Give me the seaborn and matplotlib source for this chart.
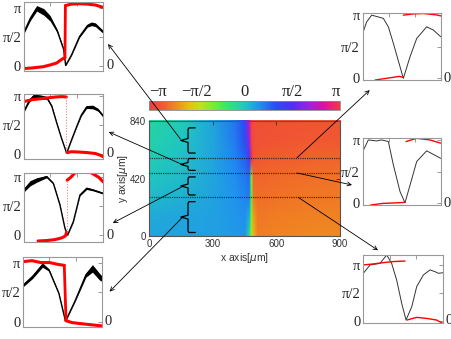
import numpy as np
import pandas as pd
import matplotlib
matplotlib.use("Agg")
import matplotlib.pyplot as plt
import matplotlib.transforms as mtransforms
import seaborn as sns
from matplotlib.colors import LinearSegmentedColormap, Normalize
from matplotlib.image import NonUniformImage
from matplotlib.patches import ConnectionPatch

PI = np.pi

# ---------------- colour wheel ----------------
cbar_pos = [0.00, 0.07, 0.14, 0.21, 0.27, 0.34, 0.41, 0.50, 0.58, 0.66, 0.75, 0.84, 0.92, 1.00]
cbar_cols = ["#f03a48", "#f05a30", "#f08a20", "#e8c010", "#c0e020", "#70f030", "#30e870",
             "#20c8c0", "#2090f0", "#2850f0", "#5030f0", "#a020e0", "#e010a0", "#f03a48"]
cbar_ticklabels = ["\u2212\u03c0", "\u2212\u03c0/2", "0", "\u03c0/2", "\u03c0"]

# ---------------- phase map (x, y in um; phase in rad) ----------------
field_x = [0, 150, 300, 400, 450, 470, 480, 490, 510, 600, 750, 900]
field_y = [0, 140, 280, 420, 560, 700, 840]
phase_y0 = [0.30, 0.32, 0.35, 0.40, 0.45, -0.30, -1.30, -1.90, -2.38, -2.32, -2.28, -2.28]
phase_y140 = [0.25, 0.30, 0.35, 0.42, 0.50, 0.20, -1.10, -2.05, -2.42, -2.38, -2.34, -2.33]
phase_y280 = [0.12, 0.22, 0.33, 0.45, 0.58, 0.65, -0.90, -2.42, -2.52, -2.47, -2.42, -2.40]
phase_y420 = [0.00, 0.12, 0.30, 0.50, 0.68, 0.80, -1.10, -2.57, -2.60, -2.54, -2.50, -2.47]
phase_y560 = [-0.08, 0.05, 0.30, 0.58, 0.85, 1.30, 2.95, -2.78, -2.72, -2.67, -2.62, -2.60]
phase_y700 = [-0.15, 0.00, 0.30, 0.65, 1.05, 2.00, -3.05, -2.85, -2.80, -2.77, -2.72, -2.70]
phase_y840 = [-0.20, -0.05, 0.30, 0.70, 1.15, 2.40, -3.00, -2.88, -2.84, -2.80, -2.77, -2.77]

x_ticks = [0, 300, 600, 900]
y_ticks = [0, 420, 840]
cut_y = [572, 462, 285]                       # dashed cut lines (um)
brace_spans = [(607, 790), (481, 567), (302, 433), (29, 253)]   # y-ranges (um)

# ---------------- inset curves: x in um, phase difference in rad ----------------
# left insets (thick black band: centre +- half width)
L1_bx = [0, 72, 144, 225, 297, 378, 450, 473, 540, 630, 720, 765, 810, 900]
L1_by = [1.85, 2.6, 3.15, 2.95, 2.6, 1.9, 0.9, 0.02, 0.6, 1.6, 2.2, 2.3, 2.25, 1.85]
L1_bw = [0.08, 0.12, 0.15, 0.18, 0.15, 0.08, 0.04, 0.02, 0.03, 0.05, 0.08, 0.1, 0.1, 0.08]
L1_ra_x = [0, 90, 219, 300, 370, 427, 465]
L1_ra_y = [-0.15, -0.12, -0.05, 0.05, 0.15, 0.35, 0.45]
L1_rb_x = [470, 540, 630, 720, 810, 900]
L1_rb_y = [3.3, 3.38, 3.4, 3.38, 3.33, 3.2]

L2_bx = [0, 60, 108, 180, 260, 315, 370, 425, 484, 540, 600, 650, 710, 780, 840, 900]
L2_by = [2.33, 2.9, 3.14, 3.1, 3.05, 2.6, 1.7, 0.85, 0.02, 0.75, 1.5, 2.1, 2.55, 2.55, 2.4, 2.05]
L2_bw = [0.05, 0.08, 0.12, 0.12, 0.08, 0.05, 0.03, 0.02, 0.02, 0.02, 0.03, 0.05, 0.08, 0.1, 0.08, 0.06]
L2_ra_x = [0, 90, 180, 270, 360, 430, 480]
L2_ra_y = [2.85, 2.95, 3.0, 3.05, 3.1, 3.12, 3.1]
L2_rb_x = [490, 540, 630, 720, 810, 870, 900]
L2_rb_y = [0.05, 0.1, 0.08, 0.05, 0.0, -0.1, -0.18]

L3_bx = [0, 68, 144, 257, 333, 408, 465, 495, 560, 635, 711, 787, 900]
L3_by = [2.42, 2.78, 2.96, 3.14, 2.78, 1.62, 0.36, 0.0, 0.72, 2.15, 2.51, 2.42, 2.24]
L3_bw = [0.1, 0.14, 0.12, 0.06, 0.04, 0.03, 0.02, 0.02, 0.03, 0.04, 0.06, 0.05, 0.04]
L3_ra_x = [160, 250, 350, 430, 470, 484]
L3_ra_y = [-0.32, -0.3, -0.25, -0.15, -0.05, 0.15]
L3_rb_x = [490, 530, 570, 640, 700, 780, 850, 900]
L3_rb_y = [2.95, 3.1, 3.3, 3.5, 3.5, 3.3, 3.1, 2.85]

L4_bx = [0, 106, 219, 295, 408, 484, 598, 718, 793, 874, 900]
L4_by = [1.95, 2.4, 3.02, 2.75, 1.51, 0.02, 1.15, 2.49, 2.84, 2.4, 2.3]
L4_bw = [0.08, 0.1, 0.12, 0.06, 0.03, 0.02, 0.04, 0.12, 0.2, 0.18, 0.15]
L4_ra_x = [0, 100, 200, 300, 400, 470]
L4_ra_y = [3.2, 3.25, 3.15, 3.15, 3.05, 3.0]
L4_rb_x = [490, 560, 650, 750, 850, 900]
L4_rb_y = [0.05, -0.05, -0.1, -0.15, -0.2, -0.22]

# right insets (thin curves)
R1_bx = [0, 45, 104, 180, 238, 296, 354, 469, 546, 623, 738, 815, 900]
R1_by = [2.23, 2.8, 3.14, 3.05, 2.98, 2.56, 1.74, 0.0, 1.07, 1.98, 2.56, 2.4, 2.07]
R1_ra_x = [144, 238, 346, 423, 469]
R1_ra_y = [-0.08, -0.02, 0.05, 0.1, 0.05]
R1_rb_x = [469, 585, 700, 855, 900]
R1_rb_y = [3.14, 3.2, 3.22, 3.15, 3.1]

R2_bx = [0, 65, 162, 219, 296, 354, 431, 488, 546, 623, 738, 900]
R2_by = [2.56, 3.14, 3.09, 3.14, 3.06, 1.9, 0.58, 0.03, 0.9, 2.07, 2.6, 2.23]
R2_ra_x = [92, 238, 360, 488]
R2_ra_y = [-0.08, 0.0, 0.02, 0.05]
R2_rb_x = [500, 623, 775, 900]
R2_rb_y = [3.06, 3.22, 3.14, 2.98]

R3_bx = [0, 76, 189, 265, 321, 378, 435, 484, 549, 605, 681, 756, 813, 851, 900]
R3_by = [2.67, 3.14, 3.23, 3.7, 3.23, 2.29, 0.98, 0.04, 0.79, 1.92, 2.58, 2.86, 2.76, 2.67, 2.7]
R3_ra_x = [0, 117, 227, 340, 473]
R3_ra_y = [3.14, 3.2, 3.27, 3.33, 3.36]
R3_rb_x = [495, 605, 720, 830, 900]
R3_rb_y = [0.04, 0.19, 0.13, 0.04, -0.15]

# ---------------- style ----------------
sns.set_style("white")
plt.rcParams["font.family"] = ["Liberation Sans", "DejaVu Sans"]
SERIF = ["Liberation Serif", "DejaVu Serif"]

fig = plt.figure(figsize=(4.52, 3.39), dpi=100)

cmap = LinearSegmentedColormap.from_list("wheel", list(zip(cbar_pos, cbar_cols)))
norm = Normalize(-PI, PI)

# ---------------- main phase map ----------------
ax = fig.add_axes([0.3296, 0.3024, 0.4226, 0.3407])
phase = np.array([phase_y0, phase_y140, phase_y280, phase_y420, phase_y560, phase_y700, phase_y840])
im = NonUniformImage(ax, interpolation="bilinear", cmap=cmap, norm=norm)
im.set_data(np.array(field_x, float), np.array(field_y, float), phase)
ax.add_image(im)
ax.set_xlim(0, 900)
ax.set_ylim(0, 840)
ax.set_xticks(x_ticks)
ax.set_yticks(y_ticks)
ax.tick_params(direction="in", top=True, right=True, length=3, width=0.6,
               labelsize=7, labelcolor="#333333", color="#333333", pad=2)
for s in ax.spines.values():
    s.set_color("#555555")
    s.set_linewidth(0.8)
ax.set_xlabel("x axis[$\\mu$m]", fontsize=7.5, color="#333333", labelpad=1)
ax.set_ylabel("y axis[$\\mu$m]", fontsize=7.5, color="#333333", labelpad=0)
for yc in cut_y:
    ax.axhline(yc, color="#222222", lw=0.9, ls=(0, (1, 0.8)), alpha=0.85)

# curly braces
x_hook, x_stem, x_tip = 218, 184, 150
for (y0, y1) in brace_spans:
    ym = 0.5 * (y0 + y1)
    bx = [x_hook, x_stem + 4, x_stem, x_stem, x_tip, x_stem, x_stem, x_stem + 4, x_hook]
    by = [y1, y1, y1 - 12, ym + 14, ym, ym - 14, y0 + 12, y0, y0]
    ax.plot(bx, by, color="black", lw=0.9, solid_joinstyle="round")

# ---------------- colour bar ----------------
cax = fig.add_axes([0.3296, 0.6755, 0.4226, 0.0265])
cb = fig.colorbar(im, cax=cax, orientation="horizontal")
cb.outline.set_edgecolor("#888888")
cb.outline.set_linewidth(0.6)
cb.set_ticks([-PI / 2, 0, PI / 2])
cax.tick_params(direction="in", length=2, width=0.5, labelbottom=False, top=True, color="#666666")
lab_pos = [-PI, -PI / 2, 0, PI / 2, PI]
lab_ha = ["left", "center", "center", "center", "right"]
for xp, t, ha in zip(lab_pos, cbar_ticklabels, lab_ha):
    cax.text(xp, 1.55, t, transform=mtransforms.blended_transform_factory(cax.transData, cax.transAxes),
             ha=ha, va="baseline", fontsize=12, family=SERIF)

# ---------------- insets ----------------
def draw_inset(rect, ylim, bx, by, bw, ra_x, ra_y, rb_x, rb_y, thick, jump):
    a = fig.add_axes(rect)
    a.set_facecolor("white")
    if bw is not None:
        lo = np.array(by) - np.array(bw)
        hi = np.array(by) + np.array(bw)
        a.fill_between(bx, lo, hi, color="black", lw=0)
        sns.lineplot(x=bx, y=by, ax=a, color="black", lw=1.0, sort=False)
    else:
        sns.lineplot(x=bx, y=by, ax=a, color="#333333", lw=0.7, sort=False)
    rlw = 2.2 if thick else 1.0
    sns.lineplot(x=ra_x, y=ra_y, ax=a, color="red", lw=rlw, sort=False)
    sns.lineplot(x=rb_x, y=rb_y, ax=a, color="red", lw=rlw, sort=False)
    if jump == "solid":
        a.plot([ra_x[-1], rb_x[0]], [ra_y[-1], rb_y[0]], color="red", lw=2.0)
    elif jump == "dotted":
        a.plot([ra_x[-1], ra_x[-1]], [ra_y[-1], rb_y[0]], color="#f08080", lw=0.8, ls=(0, (1, 1.5)))
    a.set_xlim(0, 900)
    a.set_ylim(*ylim)
    a.set_xticks([300, 600])
    a.set_yticks([0, PI / 2, PI])
    a.set_yticklabels(["0", "\u03c0/2", "\u03c0"], family=SERIF, fontsize=10.5)
    a.tick_params(direction="in", top=True, right=True, length=3, width=0.6, color="#888888",
                  labelbottom=False, pad=2)
    for s in a.spines.values():
        s.set_color("#999999")
        s.set_linewidth(0.8)
    a.set_xlabel("")
    a.set_ylabel("")
    a.text(1.04, 0, "0", transform=mtransforms.blended_transform_factory(a.transAxes, a.transData),
           ha="left", va="center", family=SERIF, fontsize=10.5)
    return a

L1 = draw_inset([0.0531, 0.7914, 0.1754, 0.2035], (-0.27, 3.51), L1_bx, L1_by, L1_bw,
                L1_ra_x, L1_ra_y, L1_rb_x, L1_rb_y, True, "solid")
L2 = draw_inset([0.0531, 0.531, 0.1754, 0.191], (-0.3, 3.25), L2_bx, L2_by, L2_bw,
                L2_ra_x, L2_ra_y, L2_rb_x, L2_rb_y, True, "dotted")
L3 = draw_inset([0.0531, 0.287, 0.1754, 0.2018], (-0.36, 3.32), L3_bx, L3_by, L3_bw,
                L3_ra_x, L3_ra_y, L3_rb_x, L3_rb_y, True, "dotted")
L4 = draw_inset([0.0516, 0.0345, 0.1735, 0.2065], (-0.3, 3.43), L4_bx, L4_by, L4_bw,
                L4_ra_x, L4_ra_y, L4_rb_x, L4_rb_y, True, "solid")
R1 = draw_inset([0.8024, 0.764, 0.1726, 0.1985], (-0.08, 3.26), R1_bx, R1_by, None,
                R1_ra_x, R1_ra_y, R1_rb_x, R1_rb_y, False, None)
R2 = draw_inset([0.8024, 0.3953, 0.1726, 0.1967], (-0.08, 3.22), R2_bx, R2_by, None,
                R2_ra_x, R2_ra_y, R2_rb_x, R2_rb_y, False, None)
R3 = draw_inset([0.8038, 0.0481, 0.1757, 0.1997], (-0.11, 3.7), R3_bx, R3_by, None,
                R3_ra_x, R3_ra_y, R3_rb_x, R3_rb_y, False, None)

# ---------------- connecting arrows ----------------
links = [
    ((148, 709), L1, (1.06, 0.387)),
    ((162, 520), L2, (1.07, 0.417)),
    ((163, 367), L3, (1.12, 0.273)),
    ((161, 144), L4, (1.10, 0.51)),
    ((697, 572), R1, (0.09, -0.15)),
    ((697, 462), R2, (-0.137, 0.30)),
    ((703, 285), R3, (0.185, 1.07)),
]
for xyA, tgt, xyB in links:
    con = ConnectionPatch(xyA=xyA, coordsA=ax.transData, xyB=xyB, coordsB=tgt.transAxes,
                          arrowstyle="->", mutation_scale=7, lw=0.6, color="black")
    fig.add_artist(con)

fig.savefig("out.png", dpi=100)
